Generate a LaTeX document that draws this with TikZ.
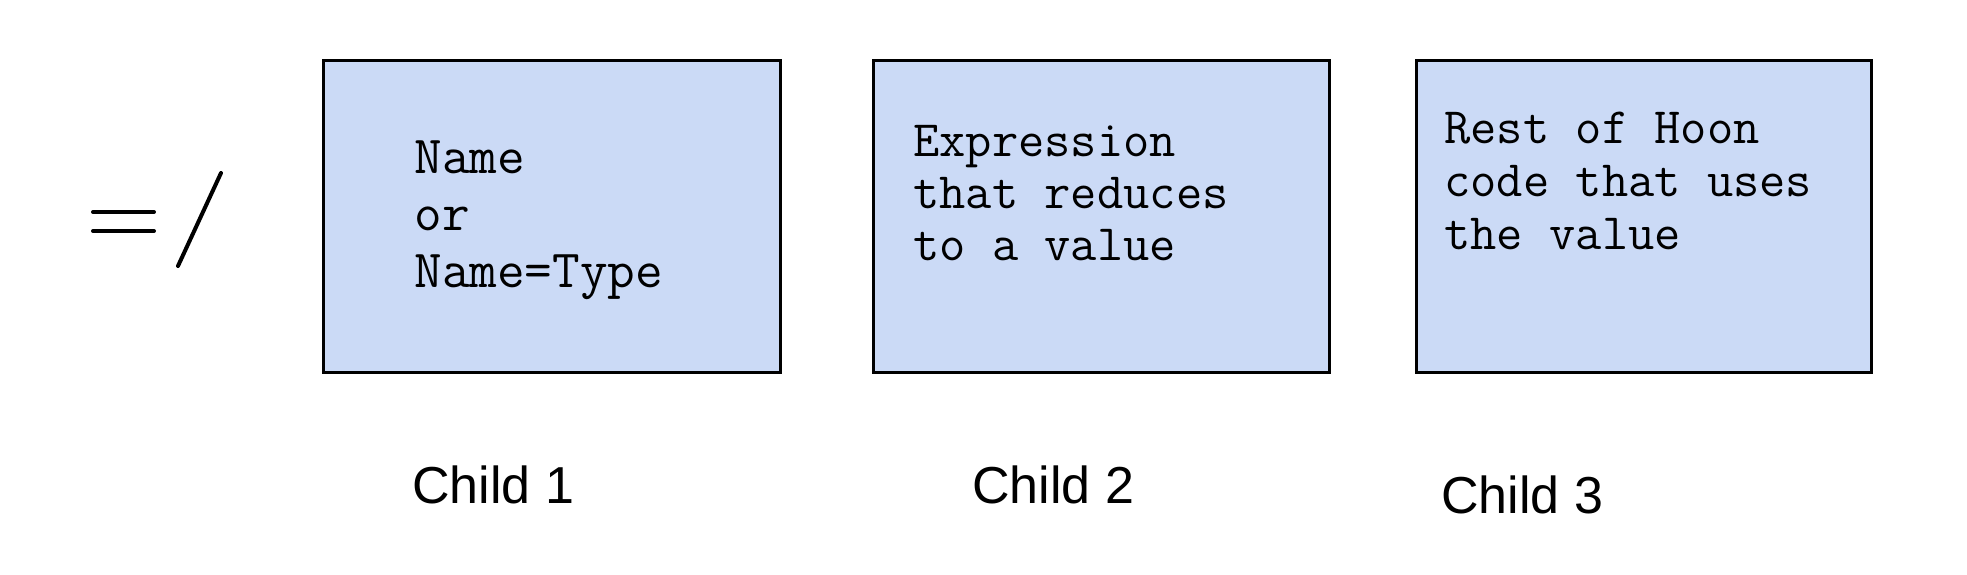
\documentclass[tikz,border=0pt]{standalone}
\usepackage{fontspec}
\setmainfont{Liberation Sans}
\definecolor{boxfill}{HTML}{CBDAF6}
\tikzset{
  childbox/.style={draw=black, fill=boxfill, line width=1.3pt, anchor=north west, inner sep=0pt},
  boxtext/.style={anchor=base west, inner sep=0pt, align=left},
  childlabel/.style={anchor=base west, inner sep=0pt, font=\fontsize{26pt}{30pt}\selectfont},
  rune/.style={line width=2pt, line cap=round}
}
\begin{document}
\begin{tikzpicture}[x=0.5pt,y=-0.5pt]
\useasboundingbox (0,0) rectangle (1967,574);
% rune =/
\coordinate (e1a) at (93,212); \coordinate (e1b) at (154,212);
\coordinate (e2a) at (93,231); \coordinate (e2b) at (154,231);
\coordinate (sa) at (178,266); \coordinate (sb) at (221,173);
\draw[rune] (e1a) -- (e1b);
\draw[rune] (e2a) -- (e2b);
\draw[rune] (sa) -- (sb);
% boxes
\node[childbox, minimum width=228.5pt, minimum height=156pt] (b1) at (322,59) {};
\node[childbox, minimum width=228pt, minimum height=156pt] (b2) at (872,59) {};
\node[childbox, minimum width=227.5pt, minimum height=156pt] (b3) at (1415,59) {};
% box texts (anchored at last baseline)
\node[boxtext, font=\ttfamily\fontsize{26.8pt}{28.5pt}\selectfont] (t1) at (414,287) {Name\\or\\Name=Type};
\node[boxtext, font=\ttfamily\fontsize{25.5pt}{26pt}\selectfont] (t2) at (913,260) {Expression\\that reduces\\to a value};
\node[boxtext, font=\ttfamily\fontsize{25.5pt}{26.5pt}\selectfont] (t3) at (1444,249) {Rest of Hoon\\code that uses\\the value};
% labels
\node[childlabel] (c1) at (412,503) {Child 1};
\node[childlabel] (c2) at (972,503) {Child 2};
\node[childlabel] (c3) at (1441,513) {Child 3};
\end{tikzpicture}
\end{document}
